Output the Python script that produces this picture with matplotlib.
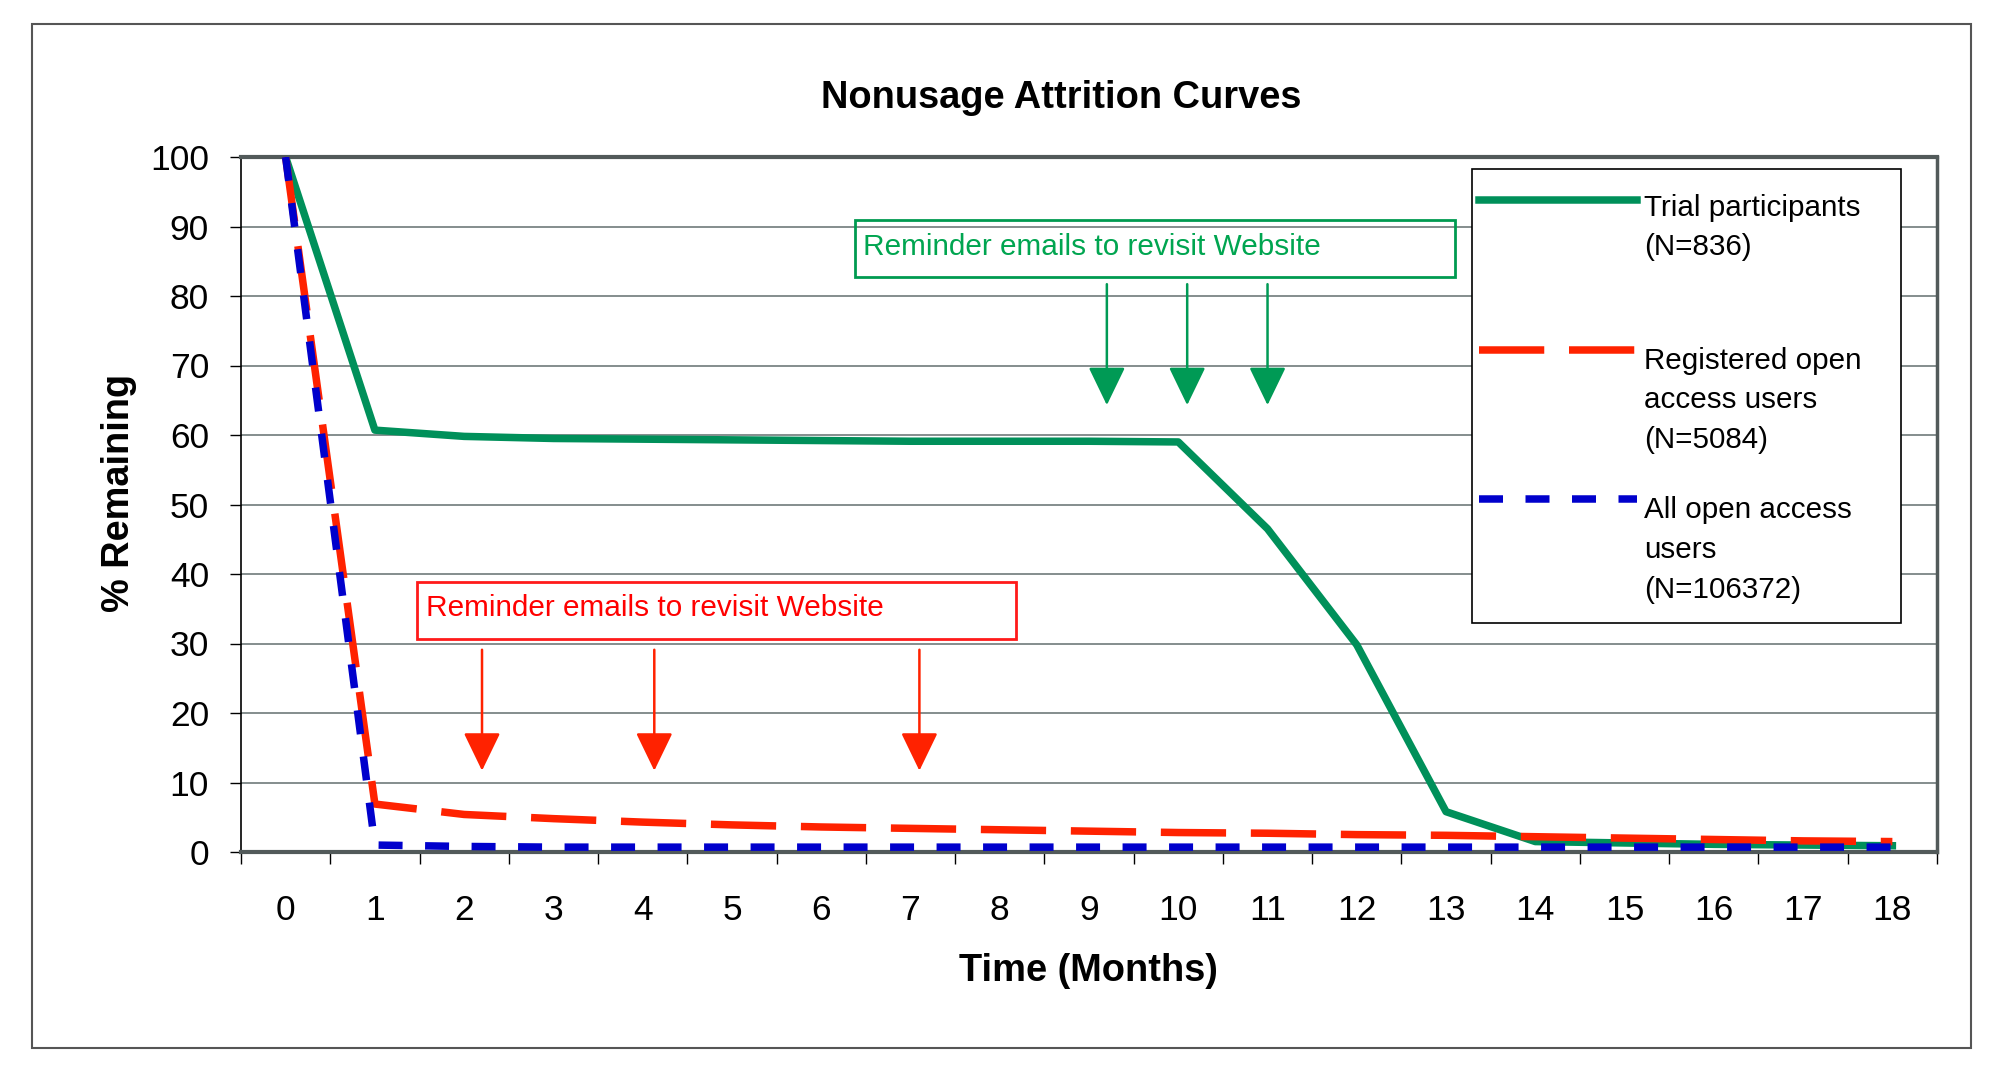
import matplotlib.pyplot as plt
from matplotlib.patches import Rectangle
from matplotlib.lines import Line2D

plt.rcParams['font.family'] = ['Liberation Sans', 'DejaVu Sans']

# ---- data ----
months = list(range(19))
trial = [100, 60.7, 59.8, 59.5, 59.4, 59.3, 59.2, 59.1, 59.1, 59.1, 59.0,
         46.5, 29.8, 5.8, 1.5, 1.3, 1.1, 1.0, 0.9]
registered = [100, 6.9, 5.4, 4.8, 4.3, 3.9, 3.6, 3.4, 3.2, 3.0, 2.8,
              2.7, 2.5, 2.4, 2.2, 2.0, 1.8, 1.6, 1.5]
all_open = [100, 1.0, 0.8, 0.7, 0.7, 0.7, 0.7, 0.7, 0.7, 0.7, 0.7,
            0.7, 0.7, 0.7, 0.7, 0.7, 0.7, 0.7, 0.7]
labels = [["Trial participants", "(N=836)"],
          ["Registered open", "access users", "(N=5084)"],
          ["All open access", "users", "(N=106372)"]]
green_reminders = [9.2, 10.1, 11.0]
red_reminders = [2.2, 4.13, 7.1]
reminder_text = "Reminder emails to revisit Website"

GREEN = "#00905a"
RED = "#ff2200"
BLUE = "#0000cc"

W, H = 2002, 1076
fig = plt.figure(figsize=(W / 100, H / 100), dpi=100)


def fx(px):
    return px / W


def fy(py):
    return 1 - py / H


# outer frame
fig.patches.append(Rectangle((fx(32), fy(1048)), fx(1971) - fx(32), fy(24) - fy(1048),
                             transform=fig.transFigure, fill=False,
                             edgecolor="#555555", lw=1.5))

ax = fig.add_axes([fx(241), fy(852), fx(1937) - fx(241), fy(157) - fy(852)])

# ---- series ----
lw = 5.4
ax.plot(months, trial, color=GREEN, lw=lw, zorder=3)
ax.plot(months, registered, color=RED, lw=lw, ls=(0, (8.7, 3.3)), zorder=4)
ax.plot(months, all_open, color=BLUE, lw=lw, ls=(0, (3.2, 3.0)), zorder=5)

ax.set_xlim(-0.5, 18.5)
ax.set_ylim(0, 100)

# ticks
ax.set_xticks(months)
ax.set_xticklabels([str(m) for m in months])
ax.set_xticks([m - 0.5 for m in months] + [18.5], minor=True)
ax.tick_params(axis="x", which="major", length=0, pad=30, labelsize=25.5)
ax.tick_params(axis="x", which="minor", length=8.6, width=1, color="black")
ax.set_yticks(range(0, 101, 10))
ax.tick_params(axis="y", length=8, width=1, color="black", pad=15, labelsize=25.5)

# grid
for v in range(10, 100, 10):
    ax.axhline(v, color="#6f7a7a", lw=1.2, zorder=1)

for s in ["top", "right", "bottom"]:
    ax.spines[s].set_color("#525a5a")
ax.spines["top"].set_linewidth(3)
ax.spines["right"].set_linewidth(2.5)
ax.spines["bottom"].set_linewidth(3)
ax.spines["left"].set_color("black")
ax.spines["left"].set_linewidth(1.2)

# ---- reminder boxes and arrows ----
ax.add_patch(Rectangle((6.38, 82.8), 13.10 - 6.38, 90.9 - 82.8, fill=False,
                       edgecolor="#009a50", lw=2, zorder=6))
ax.text(6.47, 85.9, reminder_text, color="#00a550", fontsize=21.4,
        va="baseline", ha="left", zorder=6)
for m in green_reminders:
    ax.annotate("", xy=(m, 64.3), xytext=(m, 81.7),
                arrowprops=dict(arrowstyle="-|>,head_length=1.2,head_width=0.58",
                                mutation_scale=20, lw=1.8, color="#009a55",
                                shrinkA=0, shrinkB=0), zorder=6)

ax.add_patch(Rectangle((1.47, 30.6), 8.18 - 1.47, 38.8 - 30.6, fill=False,
                       edgecolor="#ff1a1a", lw=2, zorder=6))
ax.text(1.57, 33.96, reminder_text, color="#ff0000", fontsize=21.4,
        va="baseline", ha="left", zorder=6)
for m in red_reminders:
    ax.annotate("", xy=(m, 11.7), xytext=(m, 29.1),
                arrowprops=dict(arrowstyle="-|>,head_length=1.2,head_width=0.58",
                                mutation_scale=20, lw=1.8, color=RED,
                                shrinkA=0, shrinkB=0), zorder=6)

# ---- legend (drawn by hand, Excel style) ----
fig.patches.append(Rectangle((fx(1472), fy(623)), fx(1901) - fx(1472), fy(169) - fy(623),
                             transform=fig.transFigure, facecolor="white",
                             edgecolor="black", lw=1.2, zorder=10))
handles = [dict(color=GREEN, ls="-"),
           dict(color=RED, ls=(0, (8.7, 3.3))),
           dict(color=BLUE, ls=(0, (3.2, 3.0)))]
handle_y = [200, 350, 499]
first_base = [215.5, 369, 518.5]
for h, hy, base, lab in zip(handles, handle_y, first_base, labels):
    fig.lines.append(Line2D([fx(1479), fx(1637)], [fy(hy), fy(hy)],
                            transform=fig.transFigure, lw=lw, zorder=11, **h))
    for i, line in enumerate(lab):
        fig.text(fx(1644), fy(base + 39.5 * i), line, fontsize=21.3,
                 va="baseline", ha="left", zorder=11)

# ---- titles ----
fig.text(fx(1061), fy(108), "Nonusage Attrition Curves", fontsize=27.4,
         fontweight="bold", ha="center", va="baseline")
fig.text(fx(1088), fy(981), "Time (Months)", fontsize=27.4,
         fontweight="bold", ha="center", va="baseline")
fig.text(fx(119), fy(493), "% Remaining", fontsize=27.3, fontweight="bold",
         rotation=90, ha="center", va="center")

fig.savefig("out.png", dpi=100)
